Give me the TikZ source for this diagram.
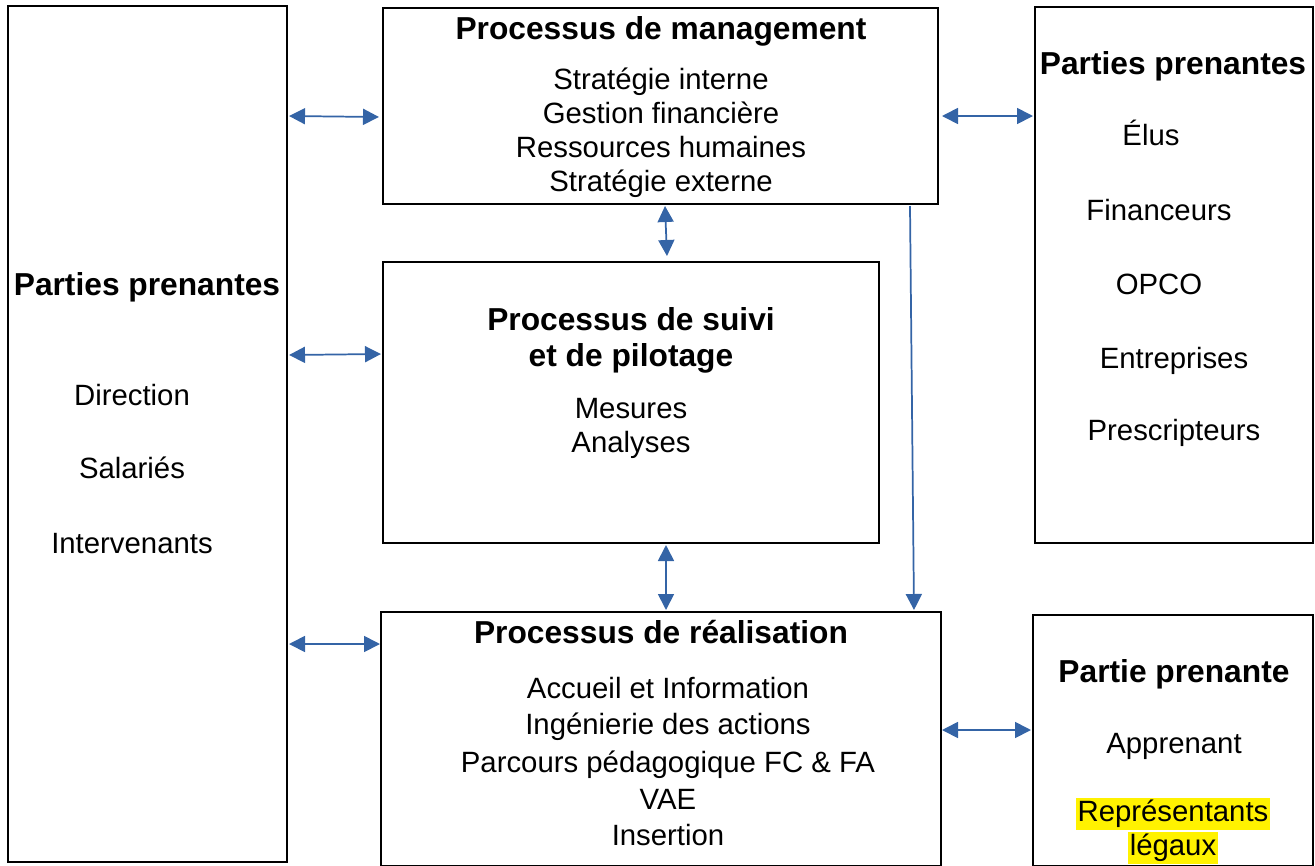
\documentclass[tikz,border=0pt]{standalone}
\usepackage{fontspec}
\setmainfont{Liberation Sans}
\usetikzlibrary{arrows.meta}
\definecolor{flecheb}{RGB}{52,100,166}
\tikzset{
	cadre/.style={draw,line width=1.3pt,inner sep=0pt,outer sep=0pt},
	titre/.style={anchor=base,font=\fontsize{23.8}{28}\selectfont\bfseries,inner sep=0pt},
	item/.style={anchor=base,font=\fontsize{22}{26}\selectfont,inner sep=0pt},
	fleche/.style={flecheb,line width=1.3pt,arrows={Triangle[length=12pt,width=12pt]-Triangle[length=12pt,width=12pt]}},
	flechesimple/.style={flecheb,line width=1.3pt,arrows={-Triangle[length=12pt,width=12pt]}},
	surligne/.style={fill=yellow,inner xsep=1pt,inner ysep=0pt,text height=17pt,text depth=6.5pt}
}
\begin{document}
\begin{tikzpicture}[x=0.75pt,y=-0.75pt]
	\useasboundingbox (0,0) rectangle (1315,865);
	% cadres
	\node[cadre,minimum width=209.25pt,minimum height=642pt] (gauche) at (147.5,434) {};
	\node[cadre,minimum width=416.25pt,minimum height=147pt] (mgmt) at (660.5,106) {};
	\node[cadre,minimum width=372pt,minimum height=210.75pt] (suivi) at (631,402.5) {};
	\node[cadre,minimum width=420pt,minimum height=190.5pt] (real) at (661,739) {};
	\node[cadre,minimum width=208.5pt,minimum height=402pt] (droiteh) at (1174,275) {};
	\node[cadre,minimum width=210pt,minimum height=188.25pt] (droiteb) at (1173,740.5) {};
	% parties prenantes internes
	\node[titre] (tg) at (147,295) {Parties prenantes};
	\foreach \t/\y [count=\i] in {Direction/405,Salariés/478,Intervenants/553}
		\node[item] (g\i) at (132,\y) {\t};
	% management
	\node[titre] (tm) at (661,39) {Processus de management};
	\foreach \t/\y [count=\i] in {Stratégie interne/89,Gestion financière/123,Ressources humaines/157,Stratégie externe/191}
		\node[item] (m\i) at (661,\y) {\t};
	% suivi et pilotage
	\node[titre] (ts1) at (631,330) {Processus de suivi};
	\node[titre] (ts2) at (631,366) {et de pilotage};
	\foreach \t/\y [count=\i] in {Mesures/418,Analyses/452}
		\node[item] (s\i) at (631,\y) {\t};
	% realisation
	\node[titre] (tr) at (661,643) {Processus de réalisation};
	\foreach \t/\y [count=\i] in {Accueil et Information/698,Ingénierie des actions/734,Parcours pédagogique FC \& FA/772,VAE/809,Insertion/845}
		\node[item] (r\i) at (668,\y) {\t};
	% parties prenantes externes
	\node[titre] (th) at (1173,74) {Parties prenantes};
	\foreach \t/\x/\y [count=\i] in {Élus/1151/145,Financeurs/1159/220,OPCO/1159/294,Entreprises/1174/368,Prescripteurs/1174/440}
		\node[item] (d\i) at (\x,\y) {\t};
	% apprenant
	\node[titre] (tb) at (1174,682) {Partie prenante};
	\node[item] (b1) at (1174,753) {Apprenant};
	\node[item,surligne] (b2) at (1173,821) {Représentants};
	\node[item,surligne] (b3) at (1173,855) {légaux};
	% points d'accroche
	\coordinate (a1) at (289,116); \coordinate (a2) at (379,117);
	\coordinate (a3) at (289,355); \coordinate (a4) at (381,354);
	\coordinate (a5) at (289,644); \coordinate (a6) at (380,644);
	\coordinate (a7) at (942,116); \coordinate (a8) at (1033,116);
	\coordinate (a9) at (942,730); \coordinate (a10) at (1031,730);
	\coordinate (b4) at (665,206); \coordinate (b5) at (667,256);
	\coordinate (b6) at (666,545); \coordinate (b7) at (666,610);
	\coordinate (b8) at (910,206); \coordinate (b9) at (914,610);
	% fleches
	\draw[fleche] (a1) -- (a2);
	\draw[fleche] (a3) -- (a4);
	\draw[fleche] (a5) -- (a6);
	\draw[fleche] (a7) -- (a8);
	\draw[fleche] (a9) -- (a10);
	\draw[fleche] (b4) -- (b5);
	\draw[fleche] (b6) -- (b7);
	\draw[flechesimple] (b8) -- (b9);
\end{tikzpicture}
\end{document}
